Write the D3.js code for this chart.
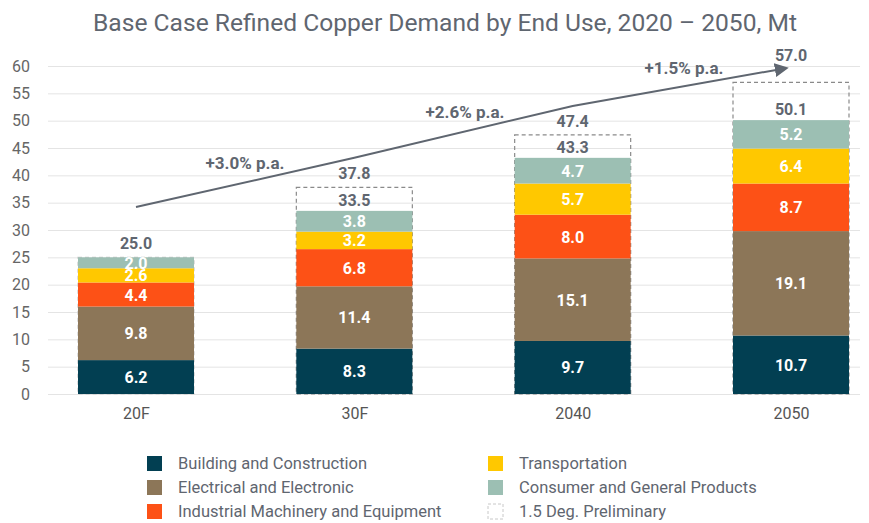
<!DOCTYPE html>
<html lang="en">
<head>
<meta charset="UTF-8">
<title>Base Case Refined Copper Demand</title>
<script src="https://cdn.jsdelivr.net/npm/d3@7"></script>
<style>
body { margin: 0; background: #fff; }
svg text { fill: #5f6670; }
.tick line { stroke: #e4e4e4; }
.domain { display: none; }
</style>
</head>
<body>
<div id="chart"></div>
<script>
// data
var years = ["20F", "30F", "2040", "2050"];
var series = ["Building and Construction", "Electrical and Electronic", "Industrial Machinery and Equipment", "Transportation", "Consumer and General Products"];
var building = [6.2, 8.3, 9.7, 10.7];
var electrical = [9.8, 11.4, 15.1, 19.1];
var industrial = [4.4, 6.8, 8.0, 8.7];
var transport = [2.6, 3.2, 5.7, 6.4];
var consumer = [2.0, 3.8, 4.7, 5.2];
var baseTotals = ["25.0", "33.5", "43.3", "50.1"];
var prelim = [25.0, 37.8, 47.4, 57.0];
var trend = [34.2, 43.2, 52.7, 59.6];
var growth = ["+3.0% p.a.", "+2.6% p.a.", "+1.5% p.a."];
var yTicks = [0, 5, 10, 15, 20, 25, 30, 35, 40, 45, 50, 55, 60];

var colors = ["#023f52", "#8c7658", "#fd5116", "#ffc800", "#9cbfb3"];
var values = [building, electrical, industrial, transport, consumer];

var W = 869, H = 523;
var svg = d3.select("#chart").append("svg").attr("width", W).attr("height", H);

var x = d3.scalePoint().domain(years).range([136, 791]);
var bw = 116;
var y = d3.scaleLinear().domain([0, 60]).range([394, 66]);

// title
svg.append("text")
  .attr("x", 445).attr("y", 31)
  .attr("text-anchor", "middle")
  .style("font-family", "Roboto, sans-serif")
  .style("font-size", "24.6px")
  .text("Base Case Refined Copper Demand by End Use, 2020 \u2013 2050, Mt");

// y axis with gridlines
var yAxis = svg.append("g")
  .attr("transform", "translate(48,0)")
  .call(d3.axisLeft(y).tickValues(yTicks).tickSize(-812).tickPadding(18));
yAxis.selectAll("text")
  .style("font-family", "Roboto, sans-serif")
  .style("font-size", "16px")
  .style("fill", "#666");

// x axis labels
var xAxis = svg.append("g")
  .attr("transform", "translate(0,394)")
  .call(d3.axisBottom(x).tickSize(0).tickPadding(14));
xAxis.selectAll("text")
  .style("font-family", "Roboto, sans-serif")
  .style("font-size", "16px")
  .style("fill", "#555");

// stacked data
var rows = years.map(function(yr, i) {
  var r = { year: yr };
  series.forEach(function(s, k) { r[s] = values[k][i]; });
  return r;
});
var stack = d3.stack().keys(series)(rows);
var topLayer = stack[stack.length - 1];

// 1.5 deg dashed boxes
svg.selectAll(".prelim")
  .data(years)
  .enter().append("rect")
  .attr("x", function(d) { return x(d) - bw / 2; })
  .attr("width", bw)
  .attr("y", function(d, i) { return y(prelim[i]); })
  .attr("height", function(d, i) { return y(0) - y(prelim[i]); })
  .attr("fill", "none")
  .attr("stroke", function(d, i) { return i === 0 ? "#c8c8c8" : "#8a8a8a"; })
  .attr("stroke-width", 1.2)
  .attr("stroke-dasharray", "4,3");

var layers = svg.selectAll(".layer")
  .data(stack)
  .enter().append("g")
  .attr("fill", function(d, k) { return colors[k]; });

layers.selectAll("rect")
  .data(function(d) { return d; })
  .enter().append("rect")
  .attr("x", function(d) { return x(d.data.year) - bw / 2; })
  .attr("width", bw)
  .attr("y", function(d) { return y(d[1]); })
  .attr("height", function(d) { return y(d[0]) - y(d[1]); });

layers.selectAll("text")
  .data(function(d) { return d; })
  .enter().append("text")
  .attr("x", function(d) { return x(d.data.year); })
  .attr("y", function(d) { return (y(d[0]) + y(d[1])) / 2 + 6; })
  .attr("text-anchor", "middle")
  .style("font-family", "Roboto, sans-serif")
  .style("font-weight", "bold")
  .style("font-size", "16px")
  .style("fill", "#fff")
  .text(function(d) { return (d[1] - d[0]).toFixed(1); });

// base totals (only where it differs from the 1.5 deg total)
svg.selectAll(".base")
  .data(years.slice(1))
  .enter().append("text")
  .attr("x", function(d) { return x(d); })
  .attr("y", function(d, i) { return y(topLayer[i + 1][1]) - 5; })
  .attr("text-anchor", "middle")
  .style("font-family", "Roboto, sans-serif")
  .style("font-weight", "bold")
  .style("font-size", "16px")
  .text(function(d, i) { return baseTotals[i + 1]; });

svg.selectAll(".ptot")
  .data(years)
  .enter().append("text")
  .attr("x", function(d) { return x(d); })
  .attr("y", function(d, i) { return y(prelim[i]) - (i === 3 ? 21 : 8); })
  .attr("text-anchor", "middle")
  .style("font-family", "Roboto, sans-serif")
  .style("font-weight", "bold")
  .style("font-size", "16px")
  .text(function(d, i) { return prelim[i].toFixed(1); });

// trend arrow
svg.append("defs").append("marker")
  .attr("id", "arr")
  .attr("viewBox", "0 0 10 10")
  .attr("refX", 8).attr("refY", 5)
  .attr("markerWidth", 7).attr("markerHeight", 7)
  .attr("orient", "auto")
  .append("path").attr("d", "M0,0 L10,5 L0,10 z").attr("fill", "#5f6670");

var trendX = years.map(function(d) { return x(d); });
trendX[3] = 786;
var line = d3.line()
  .x(function(d, i) { return trendX[i]; })
  .y(function(d) { return y(d); });
svg.append("path")
  .datum(trend)
  .attr("d", line)
  .attr("fill", "none")
  .attr("stroke", "#5f6670")
  .attr("stroke-width", 2)
  .attr("marker-end", "url(#arr)");

var gPos = [[245, 169], [465, 118], [684, 74]];
svg.selectAll(".growth")
  .data(growth)
  .enter().append("text")
  .attr("x", function(d, i) { return gPos[i][0]; })
  .attr("y", function(d, i) { return gPos[i][1]; })
  .attr("text-anchor", "middle")
  .style("font-family", "Roboto, sans-serif")
  .style("font-weight", "bold")
  .style("font-size", "17px")
  .text(function(d) { return d; });

// legend
var legendItems = series.slice();
legendItems.push("1.5 Deg. Preliminary");
var legendCol = [0, 0, 0, 1, 1, 1];
var legendRow = [0, 1, 2, 0, 1, 2];
var legend = svg.selectAll(".leg")
  .data(legendItems)
  .enter().append("g")
  .attr("transform", function(d, i) {
    return "translate(" + (147 + legendCol[i] * 341) + "," + (456 + legendRow[i] * 24) + ")";
  });
legend.append("rect")
  .attr("width", 15).attr("height", 15)
  .attr("fill", function(d, i) { return i < 5 ? colors[i] : "none"; })
  .attr("stroke", function(d, i) { return i < 5 ? "none" : "#c8c8c8"; })
  .attr("stroke-dasharray", "3,2");
legend.append("text")
  .attr("x", 31).attr("y", 13)
  .style("font-family", "Roboto, sans-serif")
  .style("font-size", "16.5px")
  .text(function(d) { return d; });
</script>
</body>
</html>
